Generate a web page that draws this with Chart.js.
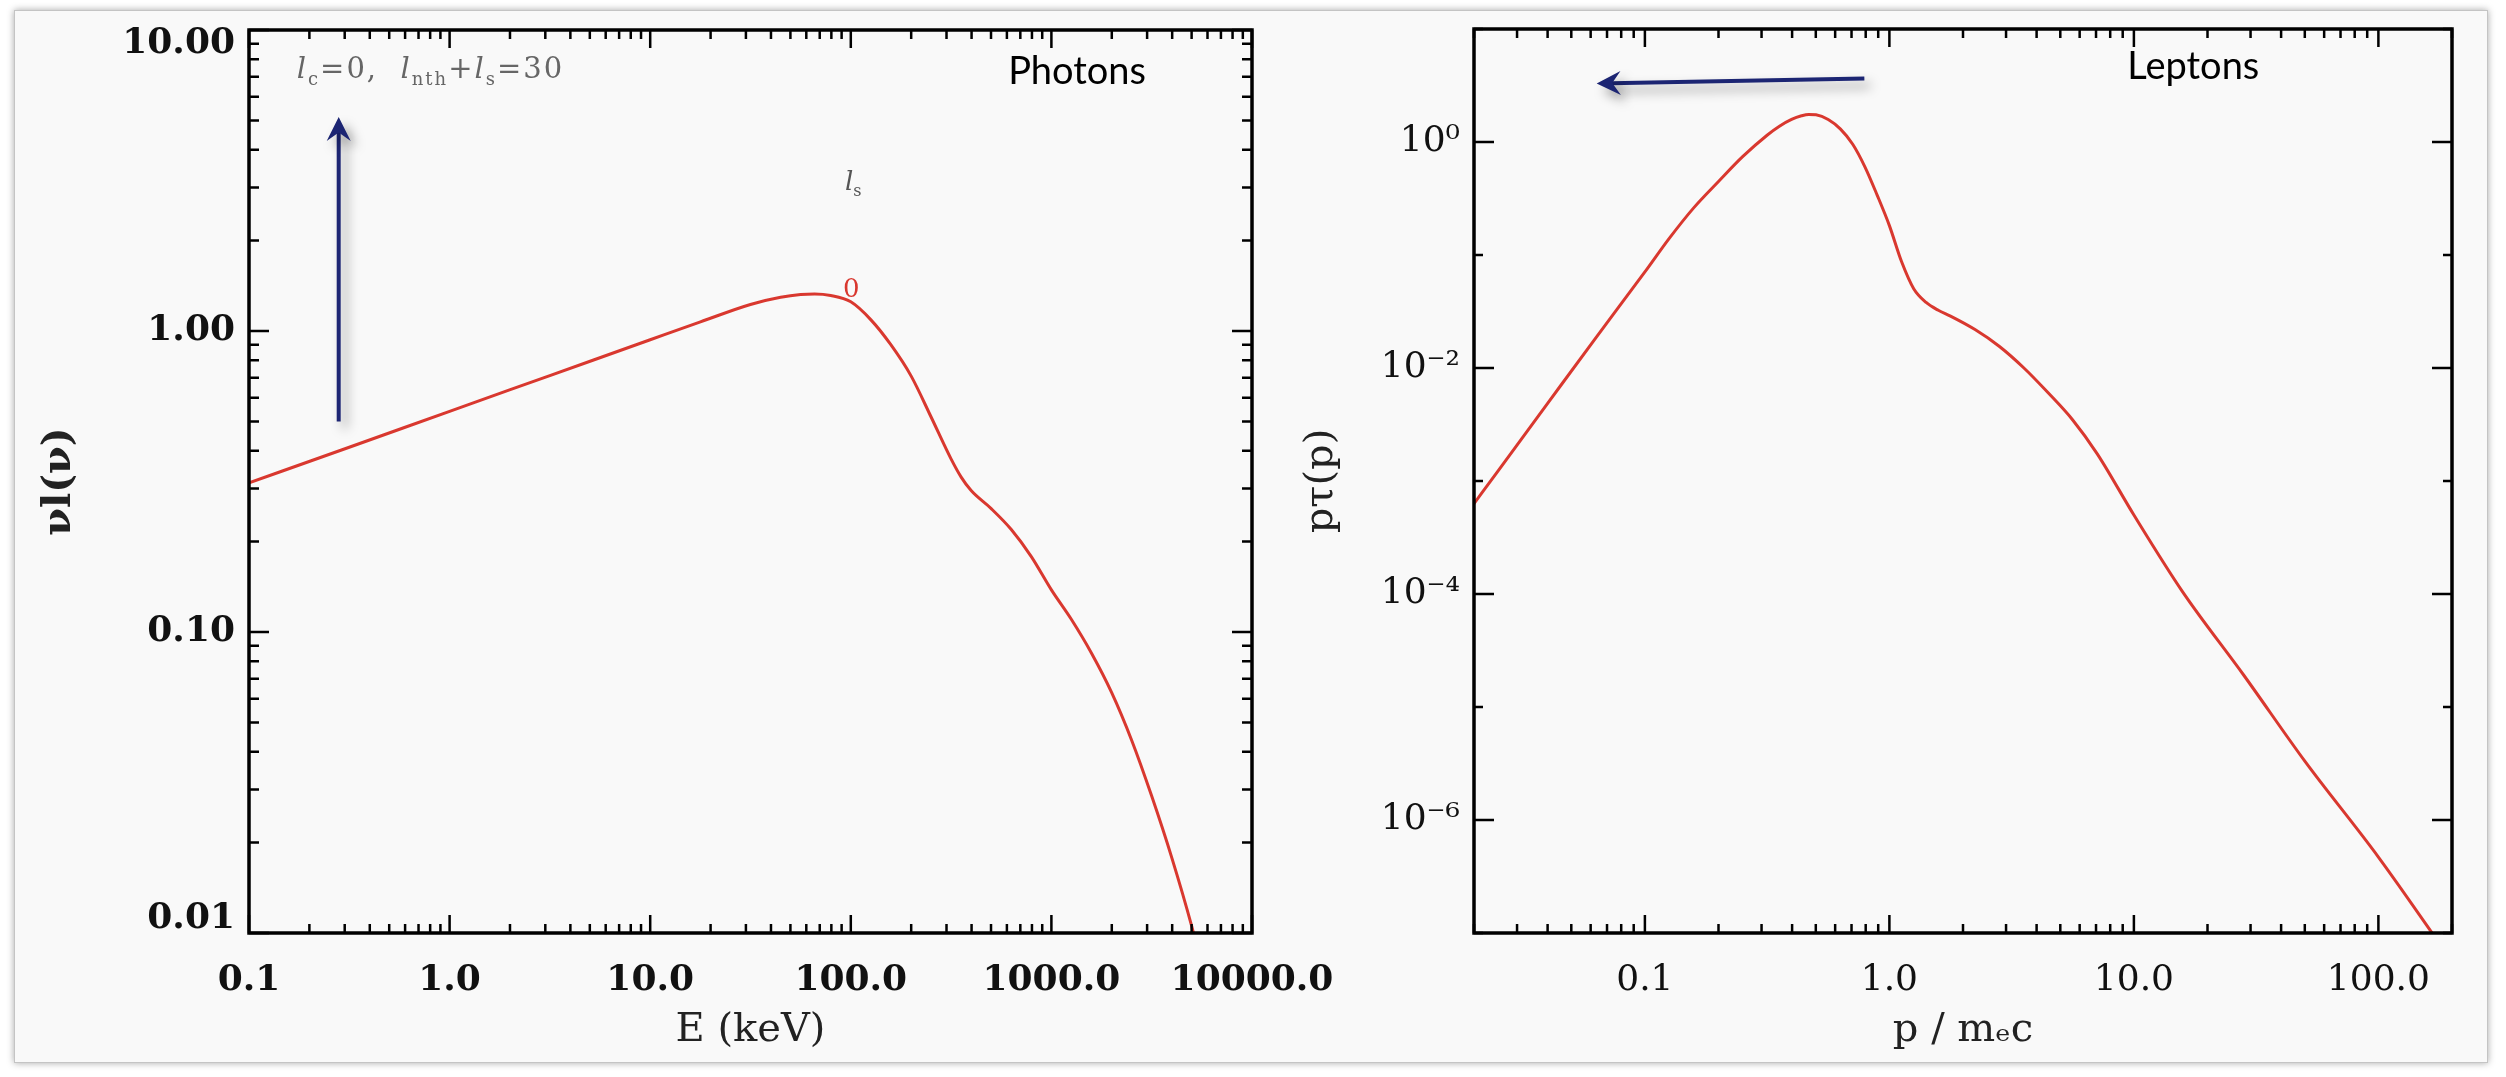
<!DOCTYPE html>
<html>
<head>
<meta charset="utf-8">
<script src="https://cdn.jsdelivr.net/npm/chart.js@4.4.1/dist/chart.umd.min.js"></script>
<style>
  html, body { margin: 0; padding: 0; background: #ffffff; }
  body { width: 2506px; height: 1077px; position: relative; overflow: hidden; }
  #frame { position: absolute; left: 14px; top: 10px; width: 2472px; height: 1051px;
           background: #f9f9f9; border: 1px solid #c4c4c4; box-shadow: 0 0 7px rgba(0,0,0,0.35); }
  canvas { position: absolute; top: 0; }
  #photons { left: 0; }
  #leptons { left: 1270px; }
</style>
</head>
<body>
<div id="frame"></div>
<canvas id="photons" width="1400" height="1077"></canvas>
<canvas id="leptons" width="1236" height="1077"></canvas>
<script>
// left panel: photon spectrum nu*l(nu) vs E (keV)
const photonE = [0.1, 0.316, 1, 3.16, 10, 17.8, 31.6, 44.7, 56.2, 66, 79.4, 100, 126, 158, 200, 251, 316,
                 355, 398, 501, 631, 794, 1000, 1259, 1585, 1995, 2512, 3162, 3981, 5012, 5250];
const photonNuI = [0.313, 0.411, 0.541, 0.711, 0.935, 1.072, 1.225, 1.294, 1.321, 1.327, 1.312, 1.25, 1.089,
                   0.902, 0.708, 0.519, 0.376, 0.327, 0.295, 0.257, 0.219, 0.178, 0.138, 0.110, 0.085, 0.063,
                   0.0437, 0.0285, 0.0178, 0.0105, 0.0093];
const photonXTicks = [0.1, 1, 10, 100, 1000, 10000];
const photonXLabels = ["0.1", "1.0", "10.0", "100.0", "1000.0", "10000.0"];
const photonYTicks = [0.01, 0.1, 1, 10];
const photonYLabels = ["0.01", "0.10", "1.00", "10.00"];

// right panel: lepton distribution p*tau(p) vs p / m_e c
const leptonP = [0.02, 0.0251, 0.0398, 0.0631, 0.1, 0.126, 0.158, 0.2, 0.251, 0.316, 0.355, 0.398, 0.437,
                 0.468, 0.501, 0.562, 0.631, 0.708, 0.794, 0.891, 1.0, 1.122, 1.259, 1.413, 1.585, 1.778, 2.24,
                 2.82, 3.55, 4.47, 5.62, 7.08, 10, 15.8, 28.2, 50.1, 100, 200];
const leptonPTau = [6.3e-4, 1.23e-3, 4.79e-3, 0.0186, 0.0708, 0.141, 0.26, 0.447, 0.741, 1.148, 1.38, 1.585,
                    1.706, 1.754, 1.74, 1.58, 1.30, 0.955, 0.603, 0.339, 0.182, 0.087, 0.050, 0.038, 0.0324,
                    0.0288, 0.0219, 0.0155, 0.01, 6.0e-3, 3.47e-3, 1.74e-3, 5.0e-4, 1.05e-4, 1.9e-5, 3.3e-6,
                    4.7e-7, 5.6e-8];
const leptonXTicks = [0.1, 1, 10, 100];
const leptonXLabels = ["0.1", "1.0", "10.0", "100.0"];
const leptonYTicks = [1e-6, 1e-4, 1e-2, 1];
const leptonYLabels = ["10\u207B\u2076", "10\u207B\u2074", "10\u207B\u00B2", "10\u2070"];

const serif = '"DejaVu Serif", "Liberation Serif", serif';

function logMarks(min, max, decadesOnly) {
  const out = [];
  for (let d = Math.floor(Math.log10(min)); d <= Math.ceil(Math.log10(max)); d++) {
    for (let m = 1; m <= (decadesOnly ? 1 : 9); m++) {
      const v = m * Math.pow(10, d);
      if (v >= min * 0.999 && v <= max * 1.001) out.push({ v, m, d });
    }
  }
  return out;
}

function drawArrow(ctx, x0, y0, x1, y1) {
  const len = Math.hypot(x1 - x0, y1 - y0);
  const ux = (x1 - x0) / len, uy = (y1 - y0) / len;
  const nx = -uy, ny = ux;
  const head = 24, half = 12;
  ctx.save();
  ctx.shadowColor = "rgba(0,0,0,0.4)";
  ctx.shadowBlur = 12;
  ctx.shadowOffsetX = 6;
  ctx.shadowOffsetY = 7;
  ctx.strokeStyle = "#1c2573";
  ctx.fillStyle = "#1c2573";
  ctx.lineWidth = 4;
  ctx.beginPath();
  ctx.moveTo(x0, y0);
  ctx.lineTo(x1 - ux * head * 0.6, y1 - uy * head * 0.6);
  ctx.stroke();
  ctx.beginPath();
  ctx.moveTo(x1, y1);
  ctx.lineTo(x1 - ux * head + nx * half, y1 - uy * head + ny * half);
  ctx.lineTo(x1 - ux * head * 0.65, y1 - uy * head * 0.65);
  ctx.lineTo(x1 - ux * head - nx * half, y1 - uy * head - ny * half);
  ctx.closePath();
  ctx.fill();
  ctx.restore();
}

// text made of pieces, some italic, some subscripts
function drawRich(ctx, parts, x, y, size, color, spacing) {
  ctx.save();
  ctx.fillStyle = color;
  ctx.textBaseline = "alphabetic";
  ctx.textAlign = "left";
  if ("letterSpacing" in ctx) ctx.letterSpacing = (spacing || 0) + "px";
  let cx = x;
  parts.forEach(p => {
    const s = p.sub ? size * 0.62 : size;
    ctx.font = (p.italic ? "italic " : "") + s + "px " + serif;
    ctx.fillText(p.t, cx, p.sub ? y + size * 0.22 : y);
    cx += ctx.measureText(p.t).width;
  });
  ctx.restore();
}

function panelPlugin(cfg) {
  return {
    id: "panel",
    beforeDraw(chart) {
      // end labels of the y axis sit inside the axis range, like the original
      if (!cfg.edgeShift) return;
      const items = chart.scales.y.getLabelItems ? chart.scales.y.getLabelItems() : null;
      if (!items || items.length < 2) return;
      const first = items[0].options, last = items[items.length - 1].options;
      if (first && first.translation && !first._shifted) {
        first.translation[1] -= cfg.edgeShift;
        first._shifted = true;
      }
      if (last && last.translation && !last._shifted) {
        last.translation[1] += cfg.edgeShift;
        last._shifted = true;
      }
    },
    afterDraw(chart) {
      const { ctx, chartArea: a, scales: { x, y } } = chart;
      ctx.save();
      ctx.strokeStyle = "#000";
      ctx.lineWidth = 2.5;
      ctx.beginPath();
      logMarks(x.min, x.max, false).forEach(t => {
        const px = x.getPixelForValue(t.v);
        const len = t.m === 1 ? 18 : 9;
        ctx.moveTo(px, a.bottom); ctx.lineTo(px, a.bottom - len);
        ctx.moveTo(px, a.top); ctx.lineTo(px, a.top + len);
      });
      logMarks(y.min, y.max, cfg.yDecadesOnly).forEach(t => {
        const py = y.getPixelForValue(t.v);
        let len;
        if (cfg.yDecadesOnly) len = t.d % 2 === 0 ? 20 : 9;
        else len = t.m === 1 ? 20 : 10;
        ctx.moveTo(a.left, py); ctx.lineTo(a.left + len, py);
        ctx.moveTo(a.right, py); ctx.lineTo(a.right - len, py);
      });
      ctx.stroke();
      ctx.lineWidth = 3.5;
      ctx.strokeRect(a.left, a.top, a.right - a.left, a.bottom - a.top);

      cfg.texts.forEach(n => {
        const px = x.getPixelForValue(n.x), py = y.getPixelForValue(n.y);
        if (n.parts) {
          drawRich(ctx, n.parts, px, py, n.size, n.color, n.spacing);
        } else {
          ctx.font = n.font;
          ctx.fillStyle = n.color;
          ctx.textAlign = n.align || "left";
          ctx.textBaseline = "alphabetic";
          ctx.fillText(n.text, px, py);
        }
      });
      cfg.arrows.forEach(r => {
        drawArrow(ctx, x.getPixelForValue(r.from[0]), y.getPixelForValue(r.from[1]),
                  x.getPixelForValue(r.to[0]), y.getPixelForValue(r.to[1]));
      });
      ctx.restore();
    }
  };
}

function makeChart(id, o) {
  const points = o.xs.map((v, i) => ({ x: v, y: o.ys[i] }));
  return new Chart(document.getElementById(id), {
    type: "line",
    data: {
      datasets: [{
        data: points,
        borderColor: "#d9382f",
        borderWidth: 3,
        pointRadius: 0,
        fill: false,
        cubicInterpolationMode: "monotone"
      }]
    },
    options: {
      responsive: false,
      animation: false,
      devicePixelRatio: 1,
      layout: { padding: o.padding },
      plugins: { legend: { display: false }, tooltip: { enabled: false } },
      scales: {
        x: {
          type: "logarithmic",
          min: o.xMin, max: o.xMax,
          afterBuildTicks: ax => { ax.ticks = o.xTicks.map(v => ({ value: v })); },
          afterFit: ax => { ax.height = 144; ax.paddingLeft = 0; ax.paddingRight = 0; },
          grid: { display: false, drawTicks: false },
          border: { display: false },
          ticks: {
            autoSkip: false, maxRotation: 0, minRotation: 0, padding: 26,
            color: "#111", font: { family: serif, size: o.tickSize, weight: o.tickWeight },
            callback: (v, i) => o.xLabels[i]
          },
          title: {
            display: true, text: o.xTitle, color: "#222",
            font: { family: serif, size: 40 }, padding: { top: 0, bottom: 22 }
          }
        },
        y: {
          type: "logarithmic",
          min: o.yMin, max: o.yMax,
          afterBuildTicks: ax => { ax.ticks = o.yTicks.map(v => ({ value: v })); },
          afterFit: ax => { ax.width = o.yWidth; ax.paddingTop = 0; ax.paddingBottom = 0; },
          grid: { display: false, drawTicks: false },
          border: { display: false },
          ticks: {
            autoSkip: false, padding: 14,
            color: "#111", font: { family: serif, size: o.tickSize, weight: o.tickWeight },
            callback: (v, i) => o.yLabels[i]
          },
          title: {
            display: true, text: o.yTitle, color: "#222",
            font: { family: serif, size: 40, weight: o.yTitleWeight }, padding: { top: o.yTitlePad, bottom: 0 }
          }
        }
      }
    },
    plugins: [panelPlugin(o.panel)]
  });
}

makeChart("photons", {
  xs: photonE, ys: photonNuI,
  xMin: 0.1, xMax: 10000, yMin: 0.01, yMax: 10,
  xTicks: photonXTicks, xLabels: photonXLabels,
  yTicks: photonYTicks, yLabels: photonYLabels,
  xTitle: "E (keV)", yTitle: "\u03BDl(\u03BD)", yTitleWeight: "bold", yTitlePad: 36,
  tickSize: 36, tickWeight: "bold",
  yWidth: 249,
  padding: { left: 0, top: 30, right: 148, bottom: 0 },
  panel: {
    yDecadesOnly: false,
    edgeShift: 14,
    texts: [
      { x: 0.173, y: 6.92, size: 29, spacing: 2, color: "#666", parts: [
        { t: "l", italic: true }, { t: "c", sub: true }, { t: "=0,  " },
        { t: "l", italic: true }, { t: "nth", sub: true }, { t: "+" },
        { t: "l", italic: true }, { t: "s", sub: true }, { t: "=30" }] },
      { x: 93.5, y: 2.94, size: 26, color: "#555", parts: [{ t: "l", italic: true }, { t: "s", sub: true }] },
      { x: 91.4, y: 1.30, text: "0", font: "26px " + serif, color: "#d9382f" },
      { x: 1343, y: 6.6, text: "Photons", font: "38px Lato, 'Open Sans', sans-serif", color: "#000", align: "center" }
    ],
    arrows: [{ from: [0.28, 0.5], to: [0.28, 5.14] }]
  }
});

makeChart("leptons", {
  xs: leptonP, ys: leptonPTau,
  xMin: 0.02, xMax: 200, yMin: 1e-7, yMax: 10,
  xTicks: leptonXTicks, xLabels: leptonXLabels,
  yTicks: leptonYTicks, yLabels: leptonYLabels,
  xTitle: "p / m\u2091c", yTitle: "p\u03C4(p)", yTitleWeight: "normal", yTitlePad: 28,
  tickSize: 36, tickWeight: "normal",
  yWidth: 204,
  padding: { left: 0, top: 29, right: 54, bottom: 0 },
  panel: {
    yDecadesOnly: true,
    edgeShift: 0,
    texts: [
      { x: 17.5, y: 3.6, text: "Leptons", font: "38px Lato, 'Open Sans', sans-serif", color: "#000", align: "center" }
    ],
    arrows: [{ from: [0.79, 3.65], to: [0.0635, 3.3] }]
  }
});
</script>
</body>
</html>
